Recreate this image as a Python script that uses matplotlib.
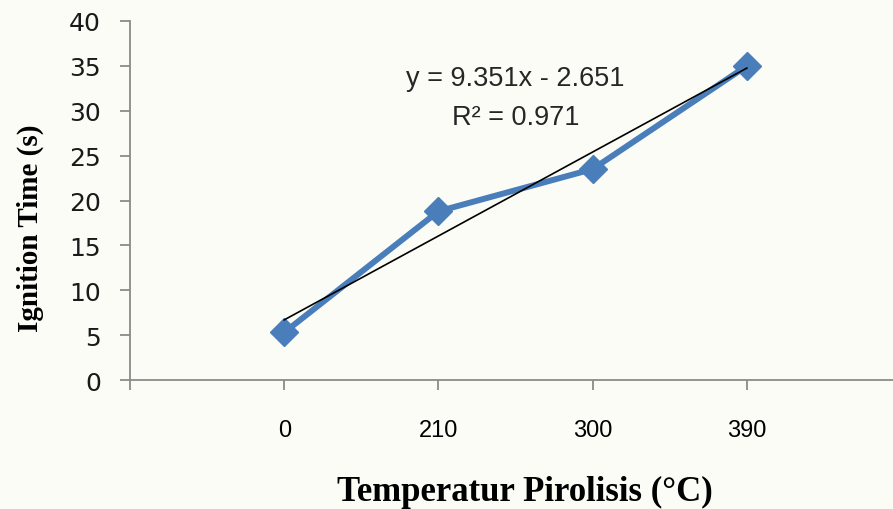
import matplotlib.pyplot as plt

# data
kategori = ["0", "210", "300", "390"]
waktu_nyala = [5.3, 18.8, 23.5, 35.0]
slope = 9.351
intercept = -2.651
r2 = 0.971

posisi = list(range(1, len(kategori) + 1))
tren = [slope * p + intercept for p in posisi]

fig = plt.figure(figsize=(8.93, 5.10), dpi=100)
fig.patch.set_facecolor("#fcfcf6")
ax = fig.add_axes([0.1456, 0.2529, 0.86, 0.704])
ax.set_facecolor("#fcfcf6")

ax.plot(posisi, waktu_nyala, color="#4a7ebb", lw=4.3, marker="D", ms=14,
        solid_joinstyle="miter", zorder=2)
ax.plot(posisi, tren, color="black", lw=1.2, zorder=3)

ax.set_xlim(0, 4.98)
ax.set_ylim(0, 40)
ax.set_yticks(range(0, 41, 5))
ax.set_xticks([0] + posisi)
ax.set_xticklabels([""] + kategori, family="Liberation Sans", fontsize=17)
for lbl in ax.get_yticklabels():
    lbl.set_fontsize(18)
    lbl.set_color("#1a1a1a")

for s in ["top", "right"]:
    ax.spines[s].set_visible(False)
for s in ["left", "bottom"]:
    ax.spines[s].set_color("#8a8a8a")
    ax.spines[s].set_linewidth(1.3)
ax.tick_params(axis="y", length=7, width=1.3, color="#8a8a8a", pad=14)
ax.tick_params(axis="x", length=7, width=1.3, color="#8a8a8a", pad=21)

ax.text(2.5, 33.6, "y = %.3fx - %.3f" % (slope, -intercept), ha="center", va="center",
        family="Liberation Sans", fontsize=19.5, color="#262626")
ax.text(2.5, 29.3, "R² = %.3f" % r2, ha="center", va="center",
        family="Liberation Sans", fontsize=19.5, color="#262626")

fig.text(525 / 893, 1 - 492 / 510, "Temperatur Pirolisis (°C)", ha="center", va="center",
         family="Liberation Serif", fontweight="bold", fontsize=25)
fig.text(30 / 893, 1 - 228 / 510, "Ignition Time (s)", ha="center", va="center",
         rotation=90, family="Liberation Serif", fontweight="bold", fontsize=21)

fig.savefig("out.png", dpi=100, facecolor=fig.get_facecolor())
